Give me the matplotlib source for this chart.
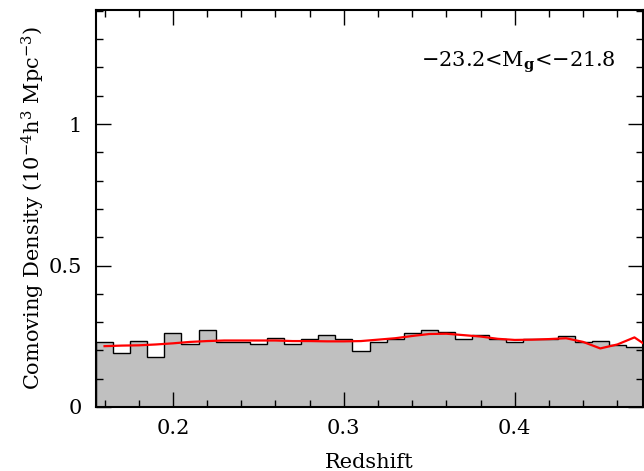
import numpy as np
import matplotlib
matplotlib.use("Agg")
import matplotlib.pyplot as plt
from matplotlib.ticker import MultipleLocator, FuncFormatter

plt.rcParams['font.family'] = 'DejaVu Serif'
plt.rcParams['mathtext.fontset'] = 'dejavuserif'

# histogram: redshift bins of 0.01 starting at 0.155
z_start = 0.155
z_step = 0.01
density = [0.230, 0.192, 0.234, 0.177, 0.261, 0.221, 0.273, 0.230,
           0.230, 0.222, 0.245, 0.221, 0.239, 0.254, 0.241, 0.197,
           0.229, 0.239, 0.263, 0.271, 0.266, 0.241, 0.253, 0.239,
           0.229, 0.239, 0.241, 0.251, 0.229, 0.232, 0.218, 0.213]

# smooth model (red) at bin centres, plus one point past the edge
model_z = [0.16, 0.17, 0.18, 0.19, 0.20, 0.21, 0.22, 0.23, 0.24, 0.25,
           0.26, 0.27, 0.28, 0.29, 0.30, 0.31, 0.32, 0.33, 0.34, 0.35,
           0.36, 0.37, 0.38, 0.39, 0.40, 0.41, 0.42, 0.43, 0.44, 0.45,
           0.46, 0.47, 0.48]
model = [0.215, 0.217, 0.218, 0.221, 0.225, 0.230, 0.233, 0.235, 0.235,
         0.235, 0.235, 0.233, 0.233, 0.232, 0.232, 0.233, 0.238, 0.243,
         0.251, 0.258, 0.259, 0.254, 0.249, 0.241, 0.237, 0.238, 0.240,
         0.243, 0.230, 0.207, 0.221, 0.246, 0.205]

edges = z_start + z_step * np.arange(len(density) + 1)

fig = plt.figure(figsize=(6.44, 4.71), dpi=100)
ax = fig.add_axes([96 / 644, 64 / 471, 547 / 644, 397 / 471])

ax.stairs(density, edges, baseline=0, fill=True, color='#c0c0c0', zorder=1)
ax.stairs(density, edges, baseline=0, color='black', linewidth=1.0, zorder=2)
ax.plot(model_z, model, color='red', linewidth=1.6, zorder=3)

ax.set_xlim(0.155, 0.475)
ax.set_ylim(0, 1.403)

ax.xaxis.set_major_locator(MultipleLocator(0.1))
ax.xaxis.set_minor_locator(MultipleLocator(0.02))
ax.yaxis.set_major_locator(MultipleLocator(0.5))
ax.yaxis.set_minor_locator(MultipleLocator(0.1))
ax.yaxis.set_major_formatter(FuncFormatter(lambda v, p: f'{v:g}'))

ax.set_axisbelow(False)
ax.tick_params(which='both', direction='in', top=True, right=True,
               width=1.0, labelsize=15)
ax.tick_params(which='major', length=10.5)
ax.tick_params(which='minor', length=5.3)
ax.tick_params(axis='x', pad=9)
ax.tick_params(axis='y', pad=10)
for s in ax.spines.values():
    s.set_linewidth(1.5)

ax.set_xlabel('Redshift', fontsize=15)
ax.xaxis.set_label_coords(0.5, -0.115)
ax.set_ylabel('Comoving Density (10$^{-4}$h$^{3}$ Mpc$^{-3}$)', fontsize=15)
ax.yaxis.set_label_coords(-0.09, 0.5)

ax.text(0.949, 0.856, '\u221223.2<M$_{\\mathbf{g}}$<\u221221.8',
        transform=ax.transAxes, ha='right', va='baseline', fontsize=15)

fig.savefig('out.png', dpi=100)
